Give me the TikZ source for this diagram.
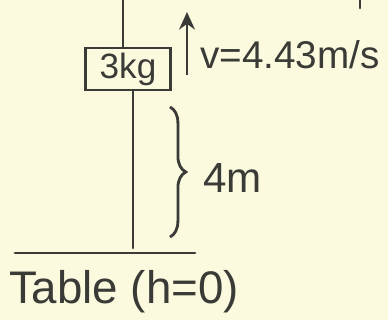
\documentclass[tikz,border=0pt]{standalone}
\usepackage{fontspec}
\setmainfont{Liberation Sans}
\usetikzlibrary{arrows.meta,decorations.pathreplacing}
\definecolor{paper}{HTML}{FBF9DE}
\definecolor{ink}{HTML}{3A3A36}
\begin{document}
\begin{tikzpicture}[
    x=0.02cm, y=-0.02cm,
    rope/.style={ink, line width=1.6pt, line cap=round},
    massbox/.style={draw=ink, line width=1.6pt, minimum width=1.7cm, minimum height=0.84cm, inner sep=0pt, text=ink, font=\fontsize{20}{24}\selectfont},
    handtext/.style={text=ink, inner sep=0pt, font=\fontsize{22}{26}\selectfont},
    velarrow/.style={ink, line width=1.6pt, -{Stealth[length=10pt, width=9pt]}},
    hbrace/.style={ink, line width=1.6pt, decorate, decoration={brace, amplitude=9pt}},
]
    \fill[paper] (0,0) rectangle (388,320);
    \useasboundingbox (0,0) rectangle (388,320);

    % mass on the rope
    \node[massbox] (mass) at (128,69) {3kg};
    \coordinate (hook) at (123,0);
    \draw[rope] (hook) -- (hook |- mass.north);
    \coordinate (floor) at (133,248);
    \draw[rope] (floor |- mass.south) -- (floor);

    % velocity
    \coordinate (vtail) at (187,75);
    \coordinate (vtip) at (187,12);
    \draw[velarrow] (vtail) -- (vtip);
    \node[handtext, anchor=west] (speed) at (200,55) {v=4.43m/s};

    % height above the table
    \coordinate (btop) at (170,107);
    \coordinate (bbot) at (170,237);
    \draw[hbrace] (btop) -- (bbot);
    \node[handtext, anchor=west, font=\fontsize{24}{28}\selectfont] (height) at (203,178) {4m};

    % table
    \coordinate (tleft) at (15,253);
    \coordinate (tright) at (195,253);
    \draw[rope] (tleft) -- (tright);
    \node[handtext, font=\fontsize{26}{30}\selectfont] (tablelbl) at (124,292) {Table (h=0)};

    \coordinate (edge) at (360,0);
    \draw[rope] (edge) -- ++(0,8);
\end{tikzpicture}
\end{document}
